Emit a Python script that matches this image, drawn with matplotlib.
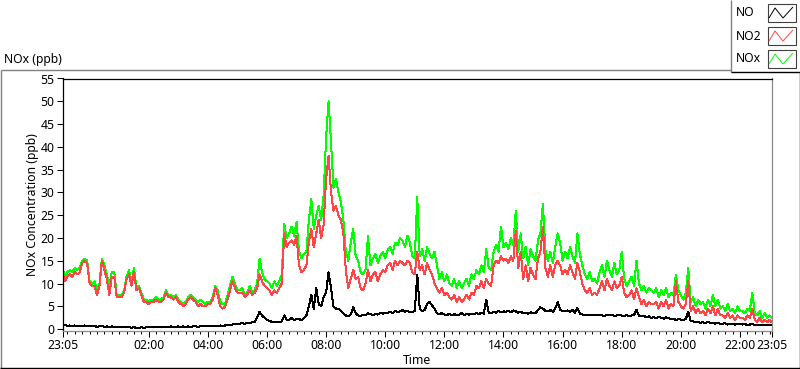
import numpy as np
import pandas as pd
import matplotlib
matplotlib.use("Agg")
from matplotlib import pyplot as plt
import matplotlib.dates as mdates
from matplotlib.lines import Line2D
from matplotlib.patches import Rectangle

plt.rcParams['font.family'] = ['Noto Sans', 'DejaVu Sans']

# 5-minute samples, 23:05 -> 23:05 next day (one row per hour)
nox_ppb = [
    13.5, 11.5, 12.5, 13, 12.5, 13.5, 13, 13.5, 15, 15.5, 15, 10.5,
    10, 10.5, 8.5, 10, 15.5, 14, 12, 9.5, 12.5, 12.5, 7.5, 7.5,
    7.5, 8.5, 11.5, 13, 10, 13.5, 9, 9.5, 8, 6.5, 6.5, 6,
    6.5, 6.5, 7, 6.5, 6.5, 7, 8.5, 7.5, 7.5, 7, 7.5, 6.5,
    6, 5.5, 6, 7, 7.5, 7, 6.5, 6, 6.5, 6, 5.5, 6,
    6, 7, 9.5, 8.5, 6, 5.5, 5.5, 7.5, 9.5, 11.5, 10, 8.5,
    8.5, 9, 7.5, 8, 9.5, 8, 8.5, 10, 15.5, 12.5, 11, 10.5,
    10, 9, 10.5, 9.5, 10.5, 12, 23, 20, 21, 22.5, 20.5, 23.5,
    17, 15.5, 16.5, 17, 24, 28.5, 22, 25, 27, 24, 29.5, 42,
    50, 41, 31, 33, 30, 28, 24, 17, 15, 19, 22, 16,
    15, 12.5, 12, 13, 20.5, 14, 15.5, 16.5, 14.5, 16, 17, 15.5,
    17.5, 18, 16.5, 19, 18.5, 20, 19.5, 18, 20.5, 19, 16, 15.5,
    29, 16, 17.5, 15, 18, 16.5, 15.5, 17, 14, 11, 12.5, 10.5,
    12, 10, 9.5, 11, 9, 10.5, 9, 10, 11, 9.5, 12, 11,
    13, 12, 14, 12.5, 17.5, 13.5, 13, 17, 18.5, 17, 22.5, 18,
    19, 17.5, 20, 18.5, 26, 17, 21, 15.5, 18, 14, 17.5, 16,
    15, 19.5, 21, 27.5, 17.5, 15, 17, 14.5, 18, 21, 19, 15,
    17, 15.5, 18, 16, 14.5, 21, 16.5, 14, 12, 11, 12.5, 10.5,
    11, 10, 12.5, 14, 11.5, 15, 13, 11.5, 14.5, 12, 13, 17,
    11, 9.5, 10.5, 11.5, 9.5, 15, 10, 8.5, 9.5, 8, 9, 8.5,
    8, 9, 7, 8.5, 7.5, 9, 7, 8, 7.5, 12, 8.5, 7.5,
    6.5, 8, 13.5, 6, 7, 5, 6.5, 5.5, 6, 4.5, 6.5, 5,
    7.5, 5, 6.5, 4.5, 5, 4, 5.5, 4, 4.5, 3.5, 5, 4,
    4, 3.5, 4.5, 4, 8, 3.5, 3, 4, 2.5, 3.5, 2.5, 3,
    2.5]

no2_ppb = [
    12.5, 10.5, 11.5, 12, 11.5, 12.5, 12, 12.5, 14.5, 15, 14.5, 10,
    9.5, 9.5, 7.5, 9.5, 15, 13, 11, 7.5, 11.5, 11.5, 7, 7,
    7, 8, 11, 12, 9.5, 12.5, 8.5, 9, 7.5, 6, 6, 5.5,
    6, 6, 6.5, 6, 6, 6.5, 8, 7, 7, 6.5, 7, 6,
    5.5, 5, 5.5, 6.5, 7, 6.5, 6, 5, 5.5, 5, 5, 5.5,
    5.5, 6.5, 9, 7.5, 5, 4.5, 5, 6.5, 8.5, 10.5, 9, 8,
    8, 8, 7, 7.5, 8.5, 7.5, 8, 9, 12, 10.5, 9.5, 9,
    8.5, 7.5, 8.5, 8, 9, 10, 21, 18, 19, 19.5, 18.5, 20.5,
    14, 12.5, 13, 14, 19, 22, 18, 21, 24, 20, 23, 33,
    38, 30, 26, 27, 25, 24, 21, 13, 9, 11, 13, 11,
    11.5, 9, 8.5, 10, 13, 10.5, 12, 12.5, 10.5, 12, 13, 12.5,
    14, 14.5, 13, 15, 14, 15, 14.5, 14, 15, 14.5, 12.5, 12,
    17, 13, 14, 12, 14.5, 13, 12, 10, 9, 8, 9, 7.5,
    8, 7, 6.5, 7.5, 6, 7, 6, 6.5, 7.5, 6.5, 8, 7.5,
    9.5, 9, 10.5, 9, 11, 10, 9.5, 14, 15, 14.5, 16, 15,
    15.5, 14.5, 16, 15, 21.5, 13.5, 17, 11, 14, 10.5, 13.5, 12,
    11, 15.5, 17, 22.5, 13.5, 11.5, 14, 11.5, 14, 15, 14, 12,
    13, 12, 14, 12.5, 11, 14.5, 12.5, 10, 8.5, 8, 9, 7.5,
    8, 7.5, 9, 10.5, 8.5, 11, 9.5, 8.5, 10.5, 9, 9.5, 11.5,
    8, 7, 7.5, 8.5, 6.5, 9, 7, 5.5, 6.5, 5, 6, 5.5,
    5.5, 6, 4.5, 6, 5, 6.5, 4.5, 5.5, 5, 10.5, 6, 5,
    4.5, 5.5, 10.5, 4, 5, 3.5, 4.5, 3.5, 4, 3, 4.5, 3.5,
    5, 3, 4.5, 3, 3, 2.5, 3.5, 2.5, 3, 2, 3, 2.5,
    2.5, 2, 3, 2.5, 4.5, 2, 1.5, 2.5, 1.5, 2, 1.5, 2,
    1.5]

no_ppb = [
    0.8, 0.9, 0.7, 0.8, 0.7, 0.8, 0.7, 0.6, 0.7, 0.8, 0.6, 0.7,
    0.6, 0.7, 0.5, 0.6, 0.7, 0.5, 0.6, 0.5, 0.6, 0.5, 0.4, 0.5,
    0.5, 0.4, 0.5, 0.4, 0.3, 0.4, 0.3, 0.3, 0.4, 0.3, 0.4, 0.4,
    0.4, 0.5, 0.4, 0.5, 0.5, 0.4, 0.5, 0.5, 0.6, 0.5, 0.5, 0.6,
    0.5, 0.6, 0.5, 0.6, 0.5, 0.6, 0.6, 0.5, 0.6, 0.7, 0.6, 0.6,
    0.6, 0.7, 0.6, 0.7, 0.8, 0.7, 0.8, 0.9, 1.0, 1.0, 1.1, 1.2,
    1.2, 1.3, 1.2, 1.4, 1.3, 1.5, 1.6, 2.5, 3.8, 3.0, 2.5, 2.0,
    1.8, 1.6, 1.5, 1.5, 1.6, 1.7, 3.0, 2.0, 2.1, 2.4, 2.0, 2.2,
    2.2, 2.0, 2.4, 3.0, 5.0, 7.5, 4.5, 9.0, 5.5, 5.0, 7.0, 8.0,
    12.5, 9.0, 5.0, 4.5, 4.5, 4.0, 3.5, 3.0, 2.8, 3.2, 4.8, 3.5,
    3.0, 2.8, 3.2, 3.0, 3.5, 3.3, 3.0, 3.4, 3.2, 3.6, 3.4, 3.5,
    3.6, 3.8, 3.5, 4.0, 3.7, 3.9, 4.2, 3.8, 4.0, 3.7, 3.8, 4.0,
    12.0, 4.5, 4.0, 4.2, 5.5, 6.0, 5.2, 4.5, 3.5, 3.3, 3.5, 3.2,
    3.0, 3.4, 3.1, 3.3, 3.0, 3.2, 3.5, 3.1, 3.3, 3.2, 3.4, 3.3,
    3.5, 3.3, 3.6, 3.4, 6.5, 3.6, 3.5, 3.8, 3.6, 4.0, 3.7, 3.9,
    3.8, 4.0, 3.7, 4.1, 3.9, 3.6, 3.8, 3.5, 3.6, 3.4, 3.7, 3.5,
    3.5, 4.2, 4.8, 4.5, 4.0, 3.9, 4.2, 3.8, 4.5, 5.9, 4.3, 4.0,
    3.9, 4.1, 3.8, 4.3, 3.6, 4.6, 3.4, 3.2, 3.0, 3.2, 3.0, 3.1,
    3.0, 3.2, 3.1, 3.0, 2.9, 3.2, 3.0, 3.1, 2.9, 3.0, 3.1, 3.0,
    2.9, 3.1, 2.8, 3.0, 3.1, 4.2, 3.0, 2.8, 2.9, 2.6, 2.8, 2.5,
    2.6, 2.4, 2.7, 2.5, 2.3, 2.6, 2.4, 2.2, 2.3, 2.0, 2.2, 2.1,
    2.0, 2.2, 3.8, 1.8, 1.7, 1.5, 1.6, 1.4, 1.5, 1.3, 1.6, 1.4,
    1.3, 1.2, 1.4, 1.1, 1.2, 1.3, 1.0, 1.2, 1.1, 1.0, 1.2, 1.1,
    1.0, 1.1, 0.9, 1.0, 1.2, 0.9, 1.0, 0.8, 1.0, 0.9, 0.8, 0.9,
    0.9]

series_names = ["NO", "NO2", "NOx"]
series_colors = ["#000000", "#ff4545", "#00ff00"]
y_ticks = list(range(0, 60, 5))

t0 = pd.Timestamp("2019-01-01 23:05")
t1 = pd.Timestamp("2019-01-02 23:05")
times = mdates.date2num(pd.date_range(t0, periods=len(nox_ppb), freq="5min").to_pydatetime())
major_times = [t0] + list(pd.date_range("2019-01-02 02:00", "2019-01-02 22:00", freq="2h")) + [t1]
minor_times = pd.date_range("2019-01-01 23:15", "2019-01-02 23:00", freq="15min")

W, H = 800, 369
def fx(x):
    return x / W
def fy(y):
    return 1 - y / H

fig = plt.figure(figsize=(8, 3.69), dpi=100, facecolor="white")
ax = fig.add_axes([fx(62.5), fy(330.5), (772 - 62.5) / W, (330.5 - 78.5) / H])

ax.plot(times, nox_ppb, color=series_colors[2], lw=0.72, antialiased=False)
ax.plot(times, no2_ppb, color=series_colors[1], lw=0.72, antialiased=False)
ax.plot(times, no_ppb, color=series_colors[0], lw=0.72, antialiased=False)

ax.set_xlim(mdates.date2num(t0.to_pydatetime()), mdates.date2num(t1.to_pydatetime()))
ax.set_ylim(-0.3, 55)
ax.set_yticks(y_ticks)
ax.xaxis.set_major_locator(matplotlib.ticker.FixedLocator(mdates.date2num([t.to_pydatetime() for t in major_times])))
ax.xaxis.set_minor_locator(matplotlib.ticker.FixedLocator(mdates.date2num(minor_times.to_pydatetime())))
ax.xaxis.set_major_formatter(mdates.DateFormatter("%H:%M"))

ax.tick_params(axis="y", direction="out", length=4.3, width=0.75, pad=1.5, labelsize=8.8, colors="black")
ax.tick_params(axis="x", which="major", direction="out", length=4.3, width=0.75, pad=1.5, labelsize=8.8)
ax.tick_params(axis="x", which="minor", direction="out", length=2.2, width=0.75)

for side in ["top", "left"]:
    ax.spines[side].set_color("black")
    ax.spines[side].set_linewidth(0.9)
for side in ["right", "bottom"]:
    ax.spines[side].set_color("#8a8a8a")
    ax.spines[side].set_linewidth(0.9)

fig.text(fx(33), fy(205), "NOx Concentration (ppb)", rotation=90, ha="center", va="center", fontsize=8.8)
fig.text(fx(417), fy(361), "Time", ha="center", va="center", fontsize=8.8)
fig.text(fx(4), fy(59), "NOx (ppb)", ha="left", va="center", fontsize=8.8)

# chart frame
def fline(xs, ys, color, lw=1.0):
    fig.add_artist(Line2D([fx(v) for v in xs], [fy(v) for v in ys], color=color, lw=lw,
                          transform=fig.transFigure, solid_capstyle="butt"))

fline([0.5, 730.5], [69.5, 69.5], "#808080")
fline([0.5, 0.5], [69.5, 368], "#808080")
fline([0, 799.5], [367.5, 367.5], "black")
fline([799.5, 799.5], [72, 368], "black")

# legend
fline([730.5, 730.5], [0, 72], "#808080")
fline([730.5, 800], [72, 72], "black")
legend_y = [13, 36, 59]
for name, color, yc in zip(series_names, series_colors, legend_y):
    fig.text(fx(736), fy(yc), name, ha="left", va="center", fontsize=8.8)
    fig.add_artist(Rectangle((fx(767.5), fy(yc + 8.5)), 28 / W, 17 / H, transform=fig.transFigure,
                             facecolor="white", edgecolor="#404040", lw=0.8))
    zx = [769, 775, 783, 793]
    zy = [yc + 5, yc - 5, yc + 5, yc - 6]
    fline(zx, zy, color, lw=0.7)

fig.savefig("out.png", dpi=100, facecolor="white")
